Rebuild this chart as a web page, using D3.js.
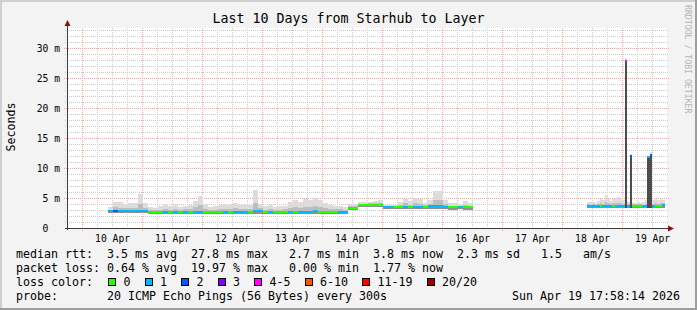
<!DOCTYPE html>
<html>
<head>
<meta charset="utf-8">
<script src="https://cdn.jsdelivr.net/npm/d3@7"></script>
<style>
body { margin: 0; background: #f3f3f3; }
text { font-family: "DejaVu Sans Mono", monospace; white-space: pre; }
</style>
</head>
<body>
<div id="container"></div>
<script>
// Time window of the graph (10 days ending at the print time)
var rangeStart = new Date(2026, 3, 9, 17, 58, 14);
var rangeEnd = new Date(2026, 3, 19, 17, 58, 14);

// First block of samples: 2 hour steps from 10 Apr 10:20
var segAStart = new Date(2026, 3, 10, 10, 20);
var segAStepHours = 2;
var segAMedian = [2.80, 2.85, 2.80, 2.80, 2.80, 2.80, 2.80, 2.80,
	2.70, 2.70, 2.70, 2.75, 2.70, 2.75, 2.70, 2.75,
	2.70, 2.75, 2.75, 2.70, 2.70, 2.70, 2.70, 2.75, 2.70, 2.75,
	2.75, 2.75, 2.70, 2.85, 2.80, 2.70, 2.75, 2.70, 2.70, 2.70,
	2.75, 2.70, 2.75, 2.75, 2.75, 2.80, 2.70, 2.70, 2.70, 2.70, 2.75, 2.75,
	3.40, 3.40,
	3.85, 3.90, 3.90, 3.90, 3.85,
	3.55, 3.55, 3.50, 3.50, 3.55, 3.50, 3.55, 3.55, 3.50, 3.60, 3.65, 3.60, 3.55, 3.45, 3.45, 3.50, 3.45, 3.45];
var segALoss = [1, 2, 1, 1, 1, 1, 1, 1,
	0, 0, 0, 1, 0, 1, 0, 1,
	0, 1, 1, 0, 0, 0, 0, 1, 0, 1,
	1, 1, 0, 1, 1, 0, 1, 0, 0, 0,
	1, 0, 1, 1, 1, 1, 0, 0, 0, 0, 1, 1,
	0, 0,
	0, 0, 0, 0, 0,
	1, 1, 0, 0, 1, 0, 1, 1, 0, 1, 1, 1, 1, 0, 0, 1, 0, 0];
var segALow = [2.45, 2.45, 2.45, 2.45, 2.45, 2.45, 2.45, 2.45,
	2.40, 2.40, 2.40, 2.40, 2.40, 2.40, 2.40, 2.40,
	2.40, 2.40, 2.40, 2.40, 2.40, 2.40, 2.40, 2.40, 2.40, 2.40,
	2.40, 2.40, 2.40, 2.40, 2.40, 2.40, 2.40, 2.40, 2.40, 2.40,
	2.40, 2.40, 2.40, 2.40, 2.40, 2.40, 2.40, 2.40, 2.40, 2.40, 2.40, 2.40,
	3.05, 3.05,
	3.45, 3.50, 3.50, 3.50, 3.45,
	3.15, 3.15, 3.10, 3.10, 3.15, 3.10, 3.15, 3.15, 3.10, 3.15, 3.20, 3.15, 3.10, 3.05, 3.05, 3.10, 3.05, 3.05];
var segAHigh = [3.5, 4.4, 4.3, 4.0, 4.1, 4.2, 5.6, 4.2,
	3.5, 3.4, 3.6, 4.0, 3.6, 3.8, 3.5, 3.7,
	3.8, 4.5, 5.4, 4.0, 3.5, 3.6, 3.9, 4.0, 3.8, 4.1,
	3.9, 4.0, 3.8, 6.3, 4.0, 3.6, 3.8, 3.5, 3.6, 3.7,
	4.3, 4.6, 4.4, 4.8, 4.6, 5.0, 4.6, 4.2, 3.8, 3.7, 3.6, 3.5,
	4.0, 4.0,
	4.3, 4.3, 4.4, 4.5, 4.6,
	3.9, 3.8, 3.9, 4.3, 4.9, 4.5, 5.0, 4.8, 4.2, 4.6, 6.2, 6.1, 4.6, 4.2, 4.1, 4.0, 4.5, 4.1];

// Second block of samples: 1 hour steps from 18 Apr 10:00
var segBStart = new Date(2026, 3, 18, 10, 0);
var segBStepHours = 1;
var segBMedian = [3.65, 3.65, 3.60, 3.60, 3.65, 3.65, 3.60, 3.60, 3.65, 3.60, 3.60, 3.65, 3.65, 3.60, 3.65,
	27.8, 3.60, 12.0,
	3.75, 3.75, 3.75, 3.75, 3.60, 3.60,
	11.8, 12.2,
	3.65, 3.70, 3.70, 3.70, 3.80];
var segBLoss = [1, 1, 1, 1, 1, 0, 1, 1, 1, 1, 0, 1, 1, 1, 1,
	5, 1, 2,
	0, 0, 0, 0, 1, 1,
	1, 2,
	1, 0, 0, 0, 1];
var segBLow = [3.3, 3.3, 3.3, 3.3, 3.3, 3.3, 3.3, 3.3, 3.3, 3.3, 3.3, 3.3, 3.3, 3.3, 3.3,
	3.3, 3.3, 3.3,
	3.4, 3.4, 3.4, 3.4, 3.3, 3.3,
	3.3, 3.3,
	3.3, 3.3, 3.3, 3.3, 3.4];
var segBHigh = [4.4, 4.3, 4.4, 4.2, 4.5, 4.8, 4.6, 5.5, 4.8, 4.5, 4.9, 5.0, 5.1, 4.9, 4.6,
	28.3, 4.4, 12.4,
	4.2, 4.2, 4.3, 4.2, 4.3, 4.6,
	12.0, 12.6,
	4.6, 4.8, 4.6, 4.8, 4.7];

// Loss colour bins
var lossLabels = ["0", "1", "2", "3", "4-5", "6-10", "11-19", "20/20"];
var lossMax = [0, 1, 2, 3, 5, 10, 19, 20];
var lossColors = ["#26ff00", "#00b8ff", "#0059ff", "#7e00ff", "#ff00ff", "#ff5500", "#ff0000", "#a10000"];

var yTicks = [0, 5, 10, 15, 20, 25, 30];

var titleText = "Last 10 Days from Starhub to Layer";
var legendRows = [
	"median rtt:  3.5 ms avg  27.8 ms max   2.7 ms min  3.8 ms now  2.3 ms sd   1.5   am/s",
	"packet loss: 0.64 % avg  19.97 % max   0.00 % min  1.77 % now"
];
var probeText = "probe:       20 ICMP Echo Pings (56 Bytes) every 300s";
var stampText = "Sun Apr 19 17:58:14 2026";

function lossColor(l) {
	for (var i = 0; i < lossMax.length; i++) {
		if (l <= lossMax[i]) return lossColors[i];
	}
	return lossColors[lossColors.length - 1];
}

function buildSamples(start, stepH, med, loss, lo, hi) {
	return med.map(function(m, i) {
		var t0 = d3.timeHour.offset(start, i * stepH);
		return { t0: t0, t1: d3.timeHour.offset(t0, stepH), median: m, loss: loss[i], low: lo[i], high: hi[i] };
	});
}

var samples = buildSamples(segAStart, segAStepHours, segAMedian, segALoss, segALow, segAHigh)
	.concat(buildSamples(segBStart, segBStepHours, segBMedian, segBLoss, segBLow, segBHigh));

function makeChart() {
	var w = 697, h = 310;
	var left = 67, right = 667, top = 28, bottom = 228;

	var svg = d3.select("#container").append("svg")
		.attr("width", w)
		.attr("height", h);

	// background + bevel
	svg.append("rect").attr("width", w).attr("height", h).attr("fill", "#f3f3f3");
	svg.append("rect").attr("x", 0).attr("y", 0).attr("width", w).attr("height", 2).attr("fill", "#cfcfcf");
	svg.append("rect").attr("x", 0).attr("y", 0).attr("width", 2).attr("height", h).attr("fill", "#cfcfcf");
	svg.append("rect").attr("x", 0).attr("y", h - 2).attr("width", w).attr("height", 2).attr("fill", "#9e9e9e");
	svg.append("rect").attr("x", w - 2).attr("y", 0).attr("width", 2).attr("height", h).attr("fill", "#9e9e9e");

	var x = d3.scaleTime().domain([rangeStart, rangeEnd]).range([left, right]);
	var y = d3.scaleLinear().domain([0, 100 / 3]).range([bottom, top]);

	// canvas
	svg.append("rect")
		.attr("x", left).attr("y", top)
		.attr("width", right - left).attr("height", bottom - top)
		.attr("fill", "#ffffff");

	var grid = svg.append("g").attr("shape-rendering", "crispEdges");
	var minorColor = "#cacaca", majorColor = "#f0a8a8";

	// minor horizontal grid every 1 ms
	var minorY = d3.range(1, 34).filter(function(v) { return v % 5 !== 0; });
	grid.selectAll("line.hmin")
		.data(minorY)
		.enter().append("line")
		.attr("x1", left - 2).attr("x2", right + 2)
		.attr("y1", function(d) { return Math.round(y(d)) + 0.5; })
		.attr("y2", function(d) { return Math.round(y(d)) + 0.5; })
		.attr("stroke", minorColor)
		.attr("stroke-dasharray", "1,1");

	// minor vertical grid every 6 hours
	var minorX = d3.timeHour.every(6).range(rangeStart, rangeEnd).filter(function(d) { return d.getHours() !== 0; });
	grid.selectAll("line.vmin")
		.data(minorX)
		.enter().append("line")
		.attr("x1", function(d) { return Math.round(x(d)) + 0.5; })
		.attr("x2", function(d) { return Math.round(x(d)) + 0.5; })
		.attr("y1", top).attr("y2", bottom + 2)
		.attr("stroke", minorColor)
		.attr("stroke-dasharray", "1,1");

	// major grid
	grid.selectAll("line.hmaj")
		.data(yTicks.slice(1))
		.enter().append("line")
		.attr("x1", left - 3).attr("x2", right + 2)
		.attr("y1", function(d) { return Math.round(y(d)) + 0.5; })
		.attr("y2", function(d) { return Math.round(y(d)) + 0.5; })
		.attr("stroke", majorColor)
		.attr("stroke-dasharray", "1,1");

	var days = d3.timeDay.range(rangeStart, rangeEnd);
	grid.selectAll("line.vmaj")
		.data(days)
		.enter().append("line")
		.attr("x1", function(d) { return Math.round(x(d)) + 0.5; })
		.attr("x2", function(d) { return Math.round(x(d)) + 0.5; })
		.attr("y1", top).attr("y2", bottom + 3)
		.attr("stroke", majorColor)
		.attr("stroke-dasharray", "1,1");

	// smoke
	var smoke = svg.append("g").attr("shape-rendering", "crispEdges");
	samples.forEach(function(s) {
		var x0 = Math.round(x(s.t0)), x1 = Math.round(x(s.t1));
		var bw = Math.max(1, x1 - x0);
		var mid = s.median + 0.4 * (s.high - s.median);
		smoke.append("rect")
			.attr("x", x0).attr("width", bw)
			.attr("y", y(s.high)).attr("height", y(s.median) - y(s.high))
			.attr("fill", "#dcdcdc");
		smoke.append("rect")
			.attr("x", x0).attr("width", bw)
			.attr("y", y(mid)).attr("height", y(s.median) - y(mid))
			.attr("fill", "#bdbdbd");
		var tall = s.median - s.low > 3;
		smoke.append("rect")
			.attr("x", x0).attr("width", bw)
			.attr("y", y(s.median)).attr("height", y(s.low) - y(s.median))
			.attr("fill", tall ? "#4d4d4d" : "#8f8f8f");
	});

	// median line coloured by loss
	var med = svg.append("g").attr("shape-rendering", "crispEdges");
	med.selectAll("rect")
		.data(samples)
		.enter().append("rect")
		.attr("x", function(d) { return Math.round(x(d.t0)); })
		.attr("width", function(d) { return Math.max(1, Math.round(x(d.t1)) - Math.round(x(d.t0))); })
		.attr("y", function(d) { return Math.round(y(d.median)) - 1; })
		.attr("height", 2)
		.attr("fill", function(d) { return lossColor(d.loss); });

	// axes
	var axisColor = "#3a3a3a";
	svg.append("line")
		.attr("x1", left + 0.5).attr("x2", left + 0.5)
		.attr("y1", bottom + 2).attr("y2", top - 4)
		.attr("stroke", axisColor);
	svg.append("line")
		.attr("x1", left - 2).attr("x2", right + 3)
		.attr("y1", bottom + 0.5).attr("y2", bottom + 0.5)
		.attr("stroke", axisColor);
	svg.append("path")
		.attr("d", "M" + (left + 0.5) + "," + (top - 8) + "L" + (left + 3.5) + "," + (top - 2) + "L" + (left - 2.5) + "," + (top - 2) + "Z")
		.attr("fill", "#8b1010");
	svg.append("path")
		.attr("d", "M" + (right + 7) + "," + (bottom + 0.5) + "L" + (right + 1) + "," + (bottom - 2.5) + "L" + (right + 1) + "," + (bottom + 3.5) + "Z")
		.attr("fill", "#8b1010");

	// y labels
	svg.selectAll("text.ylab")
		.data(yTicks)
		.enter().append("text")
		.attr("x", 60)
		.attr("y", function(d) { return y(d) + 3.5; })
		.attr("text-anchor", "end")
		.attr("font-size", "9.7px")
		.attr("fill", "#000")
		.text(function(d) { return d === 0 ? "0  " : d + " m"; });

	// x labels at noon of each day
	var fmt = d3.timeFormat("%d %b");
	svg.selectAll("text.xlab")
		.data(days)
		.enter().append("text")
		.attr("x", function(d) { return x(d3.timeHour.offset(d, 12)) + 0.5; })
		.attr("y", 241.5)
		.attr("text-anchor", "middle")
		.attr("font-size", "9.7px")
		.attr("fill", "#000")
		.text(function(d) { return fmt(d); });

	// title
	svg.append("text")
		.attr("x", 348.5).attr("y", 23)
		.attr("text-anchor", "middle")
		.attr("font-size", "13.3px")
		.text(titleText);

	// vertical label
	svg.append("text")
		.attr("transform", "translate(15,127) rotate(-90)")
		.attr("text-anchor", "middle")
		.attr("font-size", "11.6px")
		.text("Seconds");

	// watermark
	svg.append("text")
		.attr("transform", "translate(684.5,5) rotate(90)")
		.attr("font-size", "8.2px")
		.attr("fill", "#b4b4b4")
		.text("RRDTOOL / TOBI OETIKER");

	// legend
	var lx = 16;
	var fs = "11.63px";
	legendRows.forEach(function(r, i) {
		svg.append("text").attr("x", lx).attr("y", 257.5 + i * 14).attr("font-size", fs).text(r);
	});
	svg.append("text").attr("x", lx).attr("y", 285.5).attr("font-size", fs).text("loss color:");
	var bx = 108.5;
	lossLabels.forEach(function(l, i) {
		svg.append("rect")
			.attr("x", bx).attr("y", 278.5)
			.attr("width", 7).attr("height", 7)
			.attr("fill", lossColors[i])
			.attr("stroke", "#000")
			.attr("shape-rendering", "crispEdges");
		var t = svg.append("text").attr("x", bx + 15).attr("y", 285.5).attr("font-size", fs).text(l);
		bx = bx + 15 + t.node().getComputedTextLength() + 14.5;
	});
	svg.append("text").attr("x", lx).attr("y", 299.5).attr("font-size", fs).text(probeText);
	svg.append("text").attr("x", 680).attr("y", 299.5).attr("text-anchor", "end").attr("font-size", fs).text(stampText);
}

makeChart();
</script>
</body>
</html>
